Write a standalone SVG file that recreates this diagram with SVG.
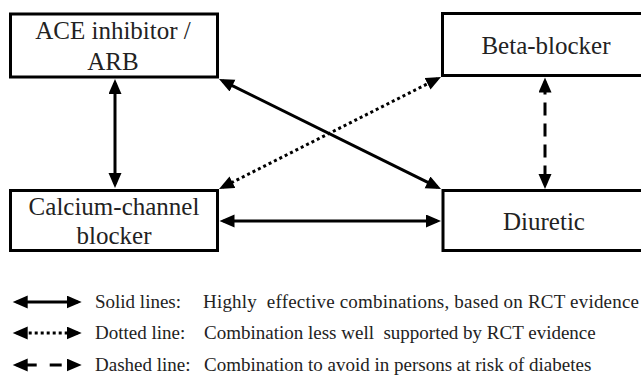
<svg xmlns="http://www.w3.org/2000/svg" width="641" height="376" viewBox="0 0 641 376">
<style>
.box{fill:#fff;stroke:#000;stroke-width:3}
.lbl{font-family:'Liberation Serif','Times New Roman',serif;font-size:25px;fill:#222;text-anchor:middle}
.leg{font-family:'Liberation Serif','Times New Roman',serif;font-size:19px;fill:#222;white-space:pre}
.c{stroke:#000;stroke-width:3;fill:none;marker-start:url(#ah);marker-end:url(#ah)}
.dot{stroke-dasharray:3 3}
.dash{stroke-dasharray:13 8}
</style>
<defs>
<marker id="ah" markerUnits="userSpaceOnUse" markerWidth="16" markerHeight="14" refX="11" refY="6.5" orient="auto-start-reverse" viewBox="0 0 16 14">
<path d="M0,0 L15,6.5 L0,13 z" fill="#000"/>
</marker>
</defs>
<g id="ace">
<rect class="box" x="10.5" y="14" width="207" height="63"/>
<text class="lbl" x="113" y="39">ACE inhibitor /</text>
<text class="lbl" x="113" y="70">ARB</text>
</g>
<g id="beta">
<rect class="box" x="442.5" y="13.5" width="210" height="62"/>
<text class="lbl" x="546" y="54">Beta-blocker</text>
</g>
<g id="ccb">
<rect class="box" x="10.5" y="190.5" width="207" height="60"/>
<text class="lbl" x="114" y="215">Calcium-channel</text>
<text class="lbl" x="114" y="244">blocker</text>
</g>
<g id="diuretic">
<rect class="box" x="443" y="190.5" width="210" height="60"/>
<text class="lbl" x="544" y="230">Diuretic</text>
</g>
<g id="connectors">
<line class="c" x1="115" y1="83" x2="115" y2="184"/>
<line class="c dash" x1="545" y1="81.5" x2="545" y2="185"/>
<line class="c" x1="223.5" y1="221" x2="437" y2="221"/>
<line class="c" x1="222.6" y1="80.8" x2="437.4" y2="187.2"/>
<line class="c dot" x1="437.4" y1="78.8" x2="222.6" y2="187.2"/>
</g>
<g id="legend">
<line class="c" x1="16.7" y1="302" x2="77.7" y2="302"/>
<line class="c dot" x1="16.7" y1="333" x2="77.7" y2="333"/>
<line class="c" x1="16.7" y1="365" x2="77.7" y2="365" stroke-dasharray="20 13 12 30"/>
<text class="leg" x="95" y="308">Solid lines:</text>
<text class="leg" x="203" y="308" textLength="436" lengthAdjust="spacing">Highly  effective combinations, based on RCT evidence</text>
<text class="leg" x="95" y="339">Dotted line:</text>
<text class="leg" x="204" y="339">Combination less well  supported by RCT evidence</text>
<text class="leg" x="95" y="371">Dashed line:</text>
<text class="leg" x="204" y="371">Combination to avoid in persons at risk of diabetes</text>
</g>
</svg>
